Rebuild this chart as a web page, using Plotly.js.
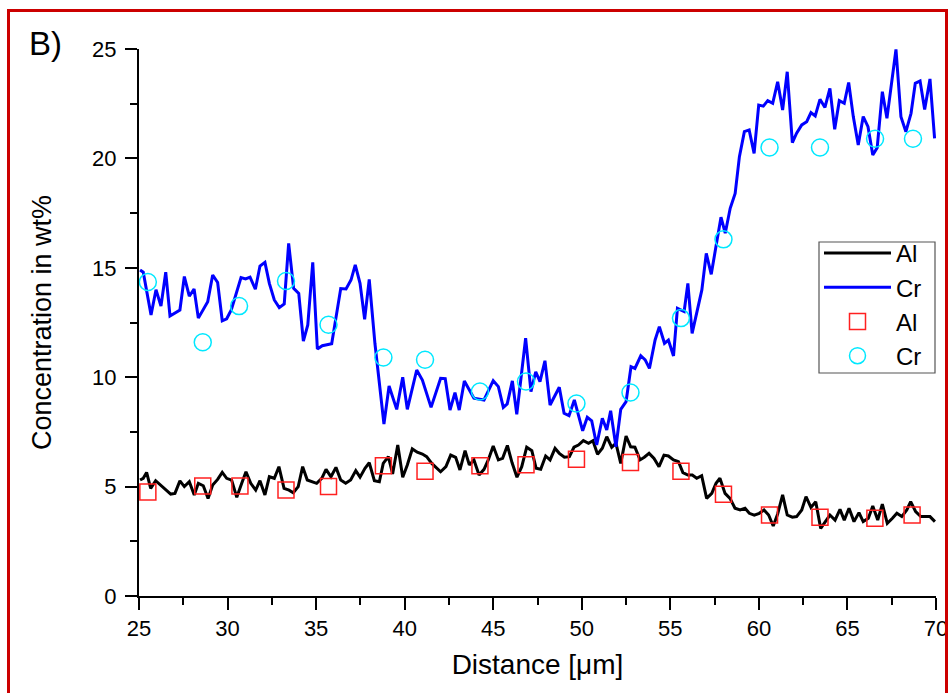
<!DOCTYPE html>
<html><head><meta charset="utf-8">
<script src="https://cdn.plot.ly/plotly-3.0.1.min.js"></script>
<style>
html,body{margin:0;padding:0;background:#fff;}
#chart{position:absolute;left:0;top:0;width:948px;height:693px;}
#frame{position:absolute;left:7px;top:9px;width:935px;height:700px;border:3px solid #cc0000;pointer-events:none;}
</style></head>
<body>
<div id="chart"></div>
<div id="frame"></div>
<script>
// Cr line (measured profile)
const crX = [25.06,25.24,25.68,25.96,26.24,26.51,26.75,27.31,27.56,27.84,28.11,28.35,28.88,29.16,29.44,29.70,29.95,30.21,30.76,31.02,31.27,31.57,31.83,32.11,32.36,32.64,32.92,33.20,33.45,33.73,34.02,34.28,34.53,34.81,35.07,35.35,35.88,36.39,36.69,36.97,37.21,37.48,37.74,38.00,38.32,38.57,38.83,39.12,39.55,39.89,40.15,40.68,41.00,41.49,42.03,42.29,42.56,42.84,43.08,43.37,43.91,44.48,45.00,45.29,45.57,45.79,46.08,46.33,46.83,47.13,47.40,47.64,47.92,48.21,48.73,49.00,49.28,49.58,50.05,50.31,50.56,50.84,51.16,51.41,51.63,51.93,52.20,52.50,52.78,53.00,53.33,53.58,53.82,54.14,54.38,54.67,54.89,55.18,55.40,55.78,55.99,56.23,56.50,56.78,57.03,57.31,57.59,57.86,58.10,58.38,58.66,58.90,59.18,59.45,59.73,59.99,60.25,60.50,60.78,61.06,61.34,61.60,61.89,62.13,62.42,62.70,62.94,63.18,63.45,63.73,64.01,64.28,64.54,64.82,65.07,65.33,65.61,65.89,66.16,66.43,66.68,66.97,67.23,67.50,67.74,68.02,68.30,68.59,68.83,69.10,69.36,69.66,69.92];
const crY = [14.9,14.8,12.84,14.0,13.25,14.8,12.8,13.07,14.6,13.7,14.03,12.7,13.45,14.67,14.33,12.58,12.67,13.07,14.55,14.49,14.57,14.02,15.08,15.25,14.29,13.53,13.18,13.35,16.12,14.06,13.83,11.65,12.39,15.25,11.29,11.44,11.53,14.05,14.03,14.44,15.13,14.29,12.65,14.47,11.55,9.72,7.86,9.6,8.53,10.0,8.53,10.33,9.87,8.62,9.95,9.93,8.5,9.29,8.5,9.83,9.04,8.96,9.84,9.57,8.62,8.78,9.83,8.3,11.78,9.34,10.25,9.8,10.75,8.73,9.54,8.35,8.24,8.96,7.55,8.17,8.01,6.9,8.12,7.59,8.47,6.82,8.53,8.88,10.48,10.4,10.98,10.79,10.4,11.7,12.31,11.55,11.7,10.97,13.15,13.0,14.29,12.0,12.92,13.99,15.66,14.7,16.04,17.31,16.58,17.72,18.4,20.08,21.22,21.3,20.23,22.44,22.39,22.64,22.52,23.5,22.21,23.96,20.72,21.15,21.53,21.68,22.09,21.94,22.7,22.33,23.2,21.33,22.64,22.52,23.47,21.91,20.61,21.91,21.45,20.16,20.49,23.05,21.83,23.43,24.98,21.91,21.22,22.06,23.43,23.54,22.24,23.63,20.92];

// Al line (measured profile)
const alX = [25.06,25.24,25.43,25.66,25.94,26.23,26.51,26.79,27.03,27.31,27.56,27.84,28.12,28.35,28.63,28.90,29.16,29.44,29.70,29.95,30.23,30.52,30.80,31.04,31.31,31.59,31.83,32.11,32.36,32.64,32.90,33.19,33.47,33.71,33.99,34.24,34.50,34.78,35.03,35.32,35.56,35.84,36.12,36.39,36.67,36.95,37.24,37.48,37.76,38.00,38.29,38.57,38.79,39.08,39.32,39.61,39.89,40.15,40.43,40.71,41.00,41.24,41.53,42.03,42.33,42.60,42.88,43.12,43.41,43.65,43.91,44.20,44.48,44.72,45.00,45.29,45.53,45.80,46.06,46.34,46.61,46.89,47.18,47.42,47.68,47.96,48.21,48.49,48.73,49.02,49.30,49.56,49.81,50.09,50.38,50.63,50.89,51.16,51.41,51.69,51.93,52.20,52.50,52.76,53.00,53.29,53.53,53.80,54.08,54.36,54.64,54.89,55.18,55.46,55.71,55.99,56.24,56.49,56.77,57.05,57.34,57.58,57.80,58.09,58.37,58.65,58.94,59.22,59.46,59.74,60.02,60.29,60.55,60.81,61.06,61.34,61.60,61.89,62.13,62.42,62.66,62.94,63.21,63.49,63.77,64.01,64.30,64.58,64.82,65.09,65.37,65.65,65.89,66.18,66.43,66.71,66.97,67.25,67.54,67.79,68.07,68.35,68.57,68.85,69.14,69.42,69.66,69.94];
const alY = [5.3,5.38,5.65,4.92,5.27,5.07,4.84,4.66,4.69,5.26,5.0,5.22,4.62,5.15,5.04,4.46,5.07,5.33,5.65,5.38,5.3,4.51,5.15,5.68,5.15,4.84,5.27,4.62,5.45,5.38,5.91,4.92,4.84,4.72,5.0,5.91,5.3,5.22,5.15,5.38,5.79,5.45,5.88,5.3,5.15,5.3,5.73,5.43,5.84,6.09,5.27,5.22,6.06,6.37,5.58,6.9,5.43,5.99,6.72,6.57,6.49,6.37,6.06,5.68,5.91,6.44,6.34,5.76,6.64,5.99,6.22,5.53,5.79,6.22,6.86,6.22,6.29,6.88,6.1,5.43,5.91,6.8,6.64,5.84,5.79,6.4,6.22,6.75,6.52,6.34,6.37,6.8,6.9,7.1,6.98,7.1,6.48,6.75,7.28,6.8,6.98,6.06,7.31,6.82,6.8,6.22,6.34,6.52,6.29,5.91,6.44,6.4,6.22,6.14,5.64,5.53,5.53,5.38,5.5,4.46,4.69,5.15,5.38,4.69,4.46,4.01,3.93,4.01,3.78,3.7,3.78,3.93,3.7,3.2,3.75,4.62,3.7,3.6,3.63,3.93,4.54,4.05,4.31,3.09,3.44,3.7,3.47,3.96,3.47,4.01,3.4,3.81,3.4,3.55,4.11,3.47,4.2,3.32,3.55,3.78,3.63,3.93,4.31,3.86,3.63,3.63,3.63,3.4];

// Point measurements (markers)
const alPtX = [25.5,28.6,30.7,33.3,35.7,38.8,41.15,44.25,46.85,49.7,52.75,55.6,58.0,60.6,63.45,66.55,68.65];
const alPtY = [4.75,5.03,5.03,4.85,5.0,5.95,5.7,5.95,6.0,6.25,6.1,5.7,4.65,3.7,3.6,3.55,3.7];
const crPtX = [25.5,28.6,30.65,33.3,35.7,38.8,41.15,44.25,46.85,49.7,52.75,55.6,58.0,60.6,63.45,66.56,68.7];
const crPtY = [14.35,11.6,13.25,14.4,12.4,10.9,10.8,9.35,9.8,8.8,9.3,12.7,16.3,20.5,20.5,20.9,20.9];

const seriesNames = ["Al","Cr","Al","Cr"];
const xTitle = "Distance [μm]";
const yTitle = "Concentration in wt%";
const panelLabel = "B)";

const FONT = "Liberation Sans, Arial, sans-serif";

const traces = [
  {x: alX, y: alY, name: seriesNames[0], mode: "lines", line: {color: "#000000", width: 3}},
  {x: crX, y: crY, name: seriesNames[1], mode: "lines", line: {color: "#0000ff", width: 3}},
  {x: alPtX, y: alPtY, name: seriesNames[2], mode: "markers",
   marker: {symbol: "square-open", size: 16, color: "#ff2020", line: {width: 1.5, color: "#ff2020"}}},
  {x: crPtX, y: crPtY, name: seriesNames[3], mode: "markers",
   marker: {symbol: "circle-open", size: 17, color: "#00e8ff", line: {width: 1.5, color: "#00e8ff"}}}
];

const axisCommon = {
  showgrid: false, zeroline: false, showline: true, linecolor: "#000", linewidth: 2,
  ticks: "outside", ticklen: 12, tickwidth: 2, tickcolor: "#000",
  ticklabeloverflow: "allow",
  tickfont: {family: FONT, size: 22, color: "#000"},
  minor: {ticks: "outside", ticklen: 7, tickwidth: 2, tickcolor: "#000", dtick: 2.5}
};

// pixel helpers for the legend frame (paper fractions of the plot area)
const PX = px => (px - 139) / 797;
const PY = py => (596 - py) / 547;

const layout = {
  width: 948, height: 693,
  margin: {l: 139, r: 12, t: 49, b: 97},
  paper_bgcolor: "#fff", plot_bgcolor: "#fff",
  font: {family: FONT, color: "#000"},
  showlegend: true,
  legend: {
    x: PX(819), y: PY(231), xanchor: "left", yanchor: "top",
    bgcolor: "rgba(0,0,0,0)", borderwidth: 0,
    font: {family: FONT, size: 24, color: "#000"},
    itemwidth: 67, tracegroupgap: 0
  },
  shapes: [
    {type: "rect", xref: "paper", yref: "paper", x0: PX(819), x1: PX(935), y0: PY(242), y1: PY(373),
     line: {color: "#555", width: 1.2}, fillcolor: "#fff", layer: "below"}
  ],
  xaxis: Object.assign({}, axisCommon, {
    range: [25, 70], dtick: 5, tick0: 25,
    title: {text: xTitle, font: {family: FONT, size: 28, color: "#000"}, standoff: 14}
  }),
  yaxis: Object.assign({}, axisCommon, {
    range: [0, 25], dtick: 5, tick0: 0, ticklabelstandoff: 4,
    title: {text: yTitle, font: {family: FONT, size: 27, color: "#000"}, standoff: 33}
  }),
  annotations: [
    {text: panelLabel, xref: "paper", yref: "paper",
     x: (27 - 139) / 797, y: (596 - 23) / 547, xanchor: "left", yanchor: "top",
     showarrow: false, font: {family: FONT, size: 33, color: "#000"}}
  ]
};

Plotly.newPlot("chart", traces, layout, {displayModeBar: false, staticPlot: true});
</script>
</body></html>
